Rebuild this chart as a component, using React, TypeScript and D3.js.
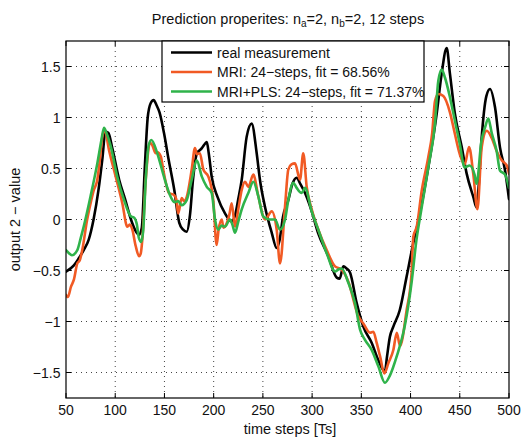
import React from "react";
import * as d3 from "d3";

const xTicks = [50, 100, 150, 200, 250, 300, 350, 400, 450, 500];
const yTicks = [-1.5, -1, -0.5, 0, 0.5, 1, 1.5];

const realT = [50,58,63,68,73,78,83,87,90,93,97,104,110,116,120,124,127,130,133,136,139,142,145,149.5,154,160,165,169,172.6,176,179,183,186,188,191,193,195,198,204,211.5,218,222,225,228.5,233.5,238.6,243.7,247,252,259,264,267,270.5,275.8,280,284.3,288,292.8,299.6,306,316.5,325,328,331.7,335,338.5,345.3,352,360.6,367.3,374,376,379,382.5,389,396,402.8,408,418,426.6,431.6,436.7,440,445,452,457,463.8,467,469,472,477,480.7,485.8,490.8,496,500];
const realY = [-0.51,-0.45,-0.38,-0.3,-0.2,0,0.29,0.6,0.86,0.85,0.7,0.39,0.2,0,-0.1,-0.15,-0.08,0.5,1.0,1.14,1.17,1.12,1.05,0.85,0.6,0.29,-0.03,-0.1,-0.12,0.05,0.39,0.65,0.68,0.7,0.74,0.76,0.65,0.42,0.22,0.06,-0.02,0.05,0.2,0.39,0.81,0.94,0.65,0.39,0.13,-0.13,-0.28,-0.2,0.03,0.19,0.35,0.41,0.35,0.26,0.08,-0.13,-0.36,-0.57,-0.58,-0.46,-0.48,-0.52,-0.82,-1.05,-1.21,-1.38,-1.49,-1.35,-1.15,-1.05,-0.89,-0.56,-0.23,-0.01,0.51,1.04,1.43,1.68,1.43,1.04,0.71,0.45,0.22,0.12,0.3,0.77,1.21,1.28,1.1,0.71,0.48,0.2];

const mriT = [50,52,55,58,61.5,64,66.5,71.5,75,78,81.8,84,86.9,89.3,93.7,100.5,107.2,112.3,115,117.4,120.8,124.2,126,127.5,131,136,138,141.1,143,146.2,149.5,154.6,159.7,162,164,167.5,170,172.6,177.7,181,183,186,189.5,194.6,199.6,203,205,208.2,210,213.2,216,218.3,221.7,225,228.5,231.8,235.2,240.3,245.3,252.2,259,264,267.4,272.5,275.8,279,282.6,287.7,291,294.5,299.6,306.3,314.8,323.3,330,336.8,347,352,358.8,362.2,365.6,369,373.4,377.4,382.5,386,389.3,396,401,402.8,406.3,411.3,418,422,424.8,428.2,433.3,440,445,450,455,459.4,463.8,467.9,472.3,477.4,482.4,487.5,492.6,497.7,500];
const mriY = [-0.74,-0.76,-0.66,-0.59,-0.43,-0.4,-0.3,0.0,0.16,0.28,0.39,0.55,0.81,0.88,0.68,0.42,0.16,-0.07,-0.05,-0.1,-0.26,-0.36,-0.33,-0.2,0.39,0.75,0.72,0.65,0.66,0.62,0.45,0.26,0.24,0.2,0.06,0.21,0.18,0.22,0.49,0.7,0.64,0.65,0.49,0.42,0.19,-0.25,-0.1,0.0,-0.08,-0.04,0.05,0.16,-0.07,0.1,0.29,0.37,0.32,0.44,0.23,0.0,0.08,-0.1,-0.43,0.13,0.49,0.54,0.55,0.39,0.65,0.32,0.1,-0.1,-0.3,-0.46,-0.49,-0.61,-0.95,-1.02,-1.11,-1.1,-1.21,-1.34,-1.51,-1.41,-1.28,-1.11,-1.24,-0.89,-0.53,-0.17,-0.07,0.28,0.61,0.85,1.16,1.23,1.21,1.05,0.84,0.64,0.54,0.71,0.44,0.1,0.71,0.87,0.8,0.67,0.58,0.53,0.45];

const plsT = [50,53,56,61.5,65,68,75,82,86,88.6,91,95.4,102,109,116,119,122,124,126.5,128.5,131,134,136.7,142.7,149.5,156,160,164,167.5,172.6,177.7,182.8,188,193,198,201.4,204.7,208,211.5,216.6,219,221.7,225,228.5,235.2,240.3,245.3,250.4,257.2,262.3,267.4,272.5,275.8,280.9,284.3,289.4,292.8,299.6,306.3,314.8,323.3,326.6,330,336.8,343.6,348.7,353.7,360.6,367.3,374,379,386,394,401,406,411,418,424.8,428.2,431.6,435,440,445,450,455,460,465,467,472,475.6,479,482.4,487.5,490.8,496,500];
const plsY = [-0.3,-0.33,-0.35,-0.3,-0.18,-0.07,0.23,0.56,0.78,0.9,0.85,0.72,0.42,0.19,0.03,0.02,-0.05,-0.18,-0.22,-0.1,0.39,0.73,0.78,0.65,0.42,0.23,0.17,0.18,0.14,0.19,0.39,0.58,0.42,0.32,0.26,0.0,-0.1,-0.06,-0.07,0.0,-0.05,-0.13,-0.02,0.1,0.26,0.37,0.23,0.03,0.0,0.0,-0.1,0.0,0.19,0.36,0.31,0.26,0.31,0.08,-0.1,-0.33,-0.51,-0.49,-0.48,-0.62,-0.82,-1.08,-1.18,-1.28,-1.44,-1.6,-1.53,-1.34,-1.05,-0.62,-0.2,0.1,0.51,0.94,1.36,1.47,1.39,1.2,0.97,0.74,0.51,0.53,0.44,0.35,0.77,0.9,0.99,0.85,0.67,0.48,0.44,0.31];

const seriesNames = ["real measurement", "MRI: 24\u2212steps, fit = 68.56%", "MRI+PLS: 24\u2212steps, fit = 71.37%"];
const seriesColors = ["#000000", "#f15a24", "#2fb34a"];

const W = 529, H = 439;
const L = 66, R = 509, T = 41, B = 398;
const font = "'Liberation Sans', Arial, Helvetica, sans-serif";

export default function App() {
  const x = d3.scaleLinear().domain([50, 500]).range([L, R]);
  const y = d3.scaleLinear().domain([-1.75, 1.75]).range([B, T]);

  const mk = (ts: number[], ys: number[]) => ts.map((t, i) => [t, ys[i]] as [number, number]);
  const smooth = d3.line<[number, number]>().x(d => x(d[0])).y(d => y(d[1])).curve(d3.curveMonotoneX);

  const paths = [
    { d: smooth(mk(mriT, mriY)) ?? "", c: seriesColors[1] },
    { d: smooth(mk(plsT, plsY)) ?? "", c: seriesColors[2] },
  ];
  const realPath = smooth(mk(realT, realY)) ?? "";

  const tickLen = 5;
  const legendX = 162, legendY = 41, legendW = 262, legendH = 61;
  const legendRows = [52.5, 72, 91.5];

  return (
    <svg width={W} height={H} style={{ position: "absolute", left: 0, top: 0, background: "#fff" }} fontFamily={font}>
      <rect x={0} y={0} width={W} height={H} fill="#fff" />
      <defs>
        <clipPath id="plotclip">
          <rect x={L} y={T} width={R - L} height={B - T} />
        </clipPath>
      </defs>
      {xTicks.slice(1, -1).map(t => (
        <line key={"gx" + t} x1={x(t)} x2={x(t)} y1={T} y2={B} stroke="#444" strokeWidth={1} strokeDasharray="1,4" />
      ))}
      {yTicks.map(t => (
        <line key={"gy" + t} x1={L} x2={R} y1={y(t)} y2={y(t)} stroke="#444" strokeWidth={1} strokeDasharray="1,4" />
      ))}
      {xTicks.map(t => (
        <g key={"tx" + t}>
          <line x1={x(t)} x2={x(t)} y1={B} y2={B - tickLen} stroke="#000" />
          <line x1={x(t)} x2={x(t)} y1={T} y2={T + tickLen} stroke="#000" />
          <text x={x(t)} y={414.5} fontSize={14} textAnchor="middle" fill="#111">{t}</text>
        </g>
      ))}
      {yTicks.map(t => (
        <g key={"ty" + t}>
          <line x1={L} x2={L + tickLen} y1={y(t)} y2={y(t)} stroke="#000" />
          <line x1={R} x2={R - tickLen} y1={y(t)} y2={y(t)} stroke="#000" />
          <text x={60.5} y={y(t) + 5} fontSize={14} textAnchor="end" fill="#111">{t < 0 ? "\u2212" + Math.abs(t) : String(t)}</text>
        </g>
      ))}
      <g clipPath="url(#plotclip)" fill="none" strokeLinejoin="round" strokeLinecap="round">
        <path d={realPath} stroke={seriesColors[0]} strokeWidth={2.6} />
        {paths.map((p, i) => (
          <path key={i} d={p.d} stroke={p.c} strokeWidth={2.6} />
        ))}
      </g>
      <rect x={L} y={T} width={R - L} height={B - T} fill="none" stroke="#000" strokeWidth={1.2} />
      <rect x={legendX} y={legendY} width={legendW} height={legendH} fill="#fff" stroke="#000" strokeWidth={1.2} />
      {legendRows.map((ry, i) => (
        <g key={"lg" + i}>
          <line x1={171} x2={212} y1={ry} y2={ry} stroke={seriesColors[i]} strokeWidth={2.6} />
          <text x={217} y={ry + 5} fontSize={14} fill="#111">{seriesNames[i]}</text>
        </g>
      ))}
      <text x={288} y={24} fontSize={14.5} textAnchor="middle" fill="#111">
        Prediction properites: n<tspan dy={3} fontSize={10}>a</tspan><tspan dy={-3}>=2, n</tspan><tspan dy={3} fontSize={10}>b</tspan><tspan dy={-3}>=2, 12 steps</tspan>
      </text>
      <text x={290} y={434} fontSize={14.5} textAnchor="middle" fill="#111">time steps [Ts]</text>
      <text transform={`translate(20,${(T + B) / 2}) rotate(-90)`} fontSize={14.5} textAnchor="middle" fill="#111">output 2 {"\u2212"} value</text>
    </svg>
  );
}
